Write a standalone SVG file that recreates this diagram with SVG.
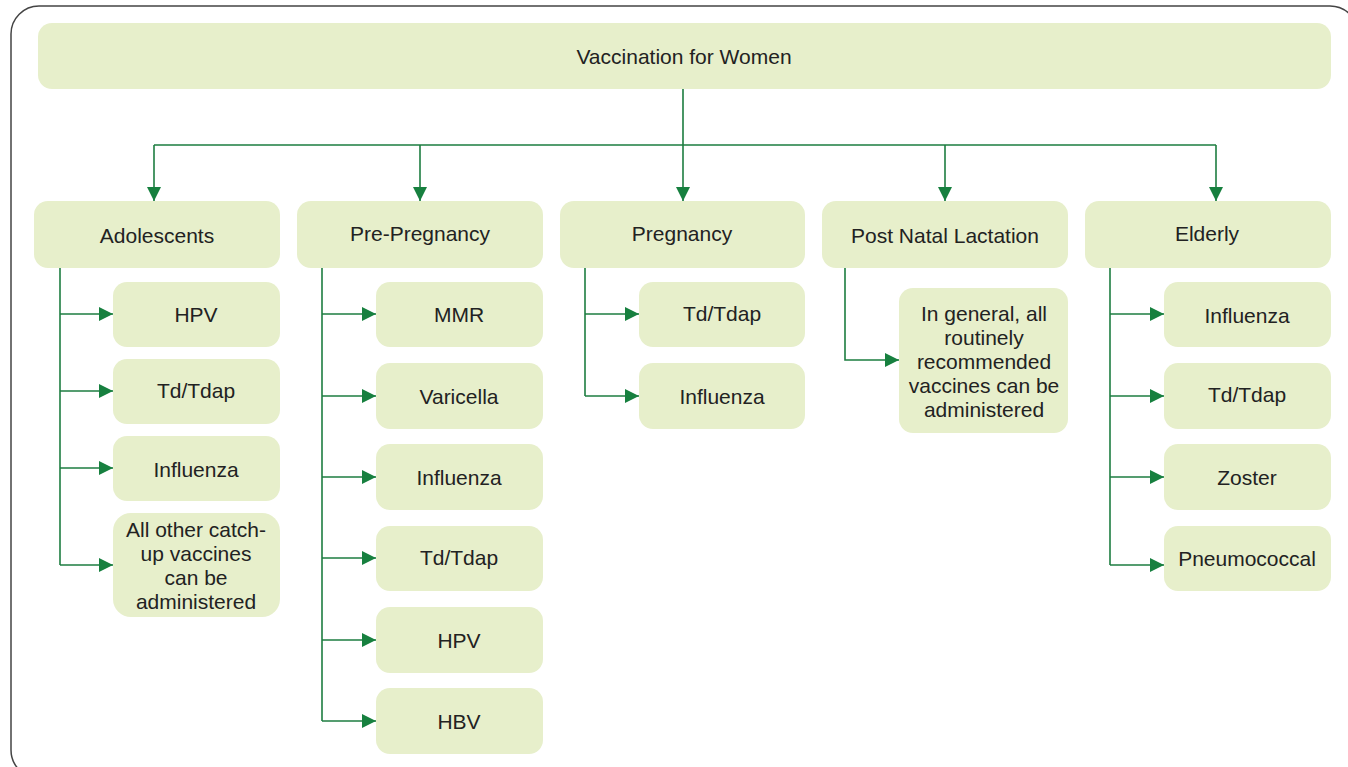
<svg xmlns="http://www.w3.org/2000/svg" width="1348" height="767" viewBox="0 0 1348 767">
<defs>
<marker id="ah" markerUnits="userSpaceOnUse" markerWidth="14" markerHeight="14" viewBox="0 0 14 14" refX="14" refY="7" orient="auto">
<path d="M0,0 L14,7 L0,14 Z" fill="#17803f"/>
</marker>
</defs>
<style>
.box{fill:#e7efcb}
.t{font-family:"Liberation Sans",Arial,sans-serif;font-size:21px;fill:#222;text-anchor:middle;dominant-baseline:central}
.c{fill:none;stroke:#1d7d40;stroke-width:1.6}
</style>
<rect x="11" y="6" width="1347" height="772" rx="28" fill="#fff" stroke="#444" stroke-width="1.5"/>
<g id="connectors">
<path class="c" d="M683,89 V145 M154,145 H1216"/>
<path class="c" d="M154,145 V201" marker-end="url(#ah)"/>
<path class="c" d="M420,145 V201" marker-end="url(#ah)"/>
<path class="c" d="M683,145 V201" marker-end="url(#ah)"/>
<path class="c" d="M945,145 V201" marker-end="url(#ah)"/>
<path class="c" d="M1216,145 V201" marker-end="url(#ah)"/>
<path class="c" d="M60,268 V565"/>
<path class="c" d="M60,314 H113" marker-end="url(#ah)"/>
<path class="c" d="M60,391 H113" marker-end="url(#ah)"/>
<path class="c" d="M60,468 H113" marker-end="url(#ah)"/>
<path class="c" d="M60,565 H113" marker-end="url(#ah)"/>
<path class="c" d="M322,268 V721"/>
<path class="c" d="M322,314 H376" marker-end="url(#ah)"/>
<path class="c" d="M322,396 H376" marker-end="url(#ah)"/>
<path class="c" d="M322,477 H376" marker-end="url(#ah)"/>
<path class="c" d="M322,558 H376" marker-end="url(#ah)"/>
<path class="c" d="M322,640 H376" marker-end="url(#ah)"/>
<path class="c" d="M322,721 H376" marker-end="url(#ah)"/>
<path class="c" d="M585,268 V396"/>
<path class="c" d="M585,314 H639" marker-end="url(#ah)"/>
<path class="c" d="M585,396 H639" marker-end="url(#ah)"/>
<path class="c" d="M845,268 V360 H899" marker-end="url(#ah)"/>
<path class="c" d="M1110,268 V565"/>
<path class="c" d="M1110,314 H1164" marker-end="url(#ah)"/>
<path class="c" d="M1110,396 H1164" marker-end="url(#ah)"/>
<path class="c" d="M1110,477 H1164" marker-end="url(#ah)"/>
<path class="c" d="M1110,565 H1164" marker-end="url(#ah)"/>
</g>
<g id="root"><rect class="box" x="38" y="23" width="1293" height="66" rx="14"/><text class="t" x="684" y="56">Vaccination for Women</text></g>
<g id="adolescents"><rect class="box" x="34" y="201" width="246" height="67" rx="14"/><text class="t" x="157" y="235">Adolescents</text></g>
<g id="prepregnancy"><rect class="box" x="297" y="201" width="246" height="67" rx="14"/><text class="t" x="420" y="233">Pre-Pregnancy</text></g>
<g id="pregnancy"><rect class="box" x="560" y="201" width="245" height="67" rx="14"/><text class="t" x="682" y="233">Pregnancy</text></g>
<g id="postnatal"><rect class="box" x="822" y="201" width="246" height="67" rx="14"/><text class="t" x="945" y="235">Post Natal Lactation</text></g>
<g id="elderly"><rect class="box" x="1085" y="201" width="246" height="67" rx="14"/><text class="t" x="1207" y="233">Elderly</text></g>

<g id="a-hpv"><rect class="box" x="113" y="282" width="167" height="65" rx="14"/><text class="t" x="196" y="314">HPV</text></g>
<g id="a-td"><rect class="box" x="113" y="359" width="167" height="65" rx="14"/><text class="t" x="196" y="390">Td/Tdap</text></g>
<g id="a-flu"><rect class="box" x="113" y="436" width="167" height="65" rx="14"/><text class="t" x="196" y="469">Influenza</text></g>
<g id="a-other"><rect class="box" x="113" y="513" width="167" height="104" rx="18"/><text class="t" x="196" y="529">All other catch-</text><text class="t" x="196" y="553">up vaccines</text><text class="t" x="196" y="577">can be</text><text class="t" x="196" y="601">administered</text></g>

<g id="p-mmr"><rect class="box" x="376" y="282" width="167" height="65" rx="14"/><text class="t" x="459" y="314">MMR</text></g>
<g id="p-var"><rect class="box" x="376" y="363" width="167" height="66" rx="14"/><text class="t" x="459" y="396">Varicella</text></g>
<g id="p-flu"><rect class="box" x="376" y="444" width="167" height="66" rx="14"/><text class="t" x="459" y="477">Influenza</text></g>
<g id="p-td"><rect class="box" x="376" y="526" width="167" height="65" rx="14"/><text class="t" x="459" y="557">Td/Tdap</text></g>
<g id="p-hpv"><rect class="box" x="376" y="607" width="167" height="66" rx="14"/><text class="t" x="459" y="640">HPV</text></g>
<g id="p-hbv"><rect class="box" x="376" y="688" width="167" height="66" rx="14"/><text class="t" x="459" y="721">HBV</text></g>

<g id="g-td"><rect class="box" x="639" y="282" width="166" height="65" rx="14"/><text class="t" x="722" y="313">Td/Tdap</text></g>
<g id="g-flu"><rect class="box" x="639" y="363" width="166" height="66" rx="14"/><text class="t" x="722" y="396">Influenza</text></g>

<g id="n-all"><rect class="box" x="899" y="288" width="169" height="145" rx="14"/><text class="t" x="984" y="313">In general, all</text><text class="t" x="984" y="337">routinely</text><text class="t" x="984" y="361">recommended</text><text class="t" x="984" y="385">vaccines can be</text><text class="t" x="984" y="409">administered</text></g>

<g id="e-flu"><rect class="box" x="1164" y="282" width="167" height="65" rx="14"/><text class="t" x="1247" y="315">Influenza</text></g>
<g id="e-td"><rect class="box" x="1164" y="363" width="167" height="66" rx="14"/><text class="t" x="1247" y="394">Td/Tdap</text></g>
<g id="e-zos"><rect class="box" x="1164" y="444" width="167" height="66" rx="14"/><text class="t" x="1247" y="477">Zoster</text></g>
<g id="e-pn"><rect class="box" x="1164" y="526" width="167" height="65" rx="14"/><text class="t" x="1247" y="558">Pneumococcal</text></g>
</svg>
